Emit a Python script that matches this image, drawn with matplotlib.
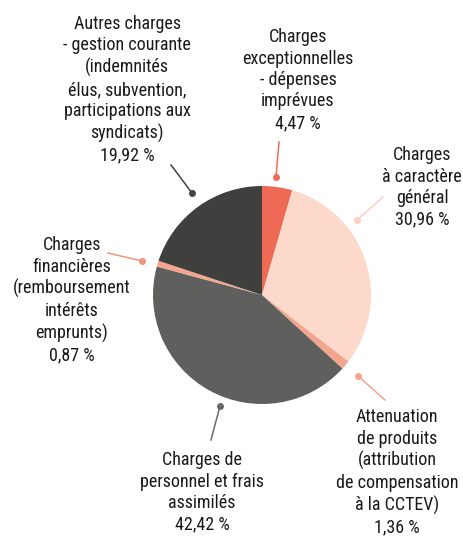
import matplotlib
matplotlib.use('Agg')
import matplotlib.pyplot as plt

# data
labels = [
    'Charges\nexceptionnelles\n- dépenses\nimprévues',
    'Charges\nà caractère\ngénéral',
    'Attenuation\nde produits\n(attribution\nde compensation\nà la CCTEV)',
    'Charges de\npersonnel et frais\nassimilés',
    'Charges\nfinancières\n(remboursement\nintérêts\nemprunts)',
    'Autres charges\n- gestion courante\n(indemnités\nélus, subvention,\nparticipations aux\nsyndicats)',
]
values = [4.47, 30.96, 1.36, 42.42, 0.87, 19.92]
colors = ['#EE6A55', '#FCD9CB', '#F4A58D', '#5F5F5D', '#F4A58D', '#3F3F3D']
line_colors = ['#EE6A55', '#FCD0C0', '#F4A58D', '#6A6A68', '#F0957A', '#444442']

W, H = 463, 538
# label text centre (x, y of first line) and connector (dot, end), image pixel coords
text_pos = [(298, 37), (422, 155), (397, 417), (202, 460), (72, 245), (127, 24)]
dots = [(276, 177), (357, 220), (358, 376), (220, 406), (142, 261), (192, 193)]
ends = [(279, 142), (383, 197), (385, 400), (211, 440), (108, 253), (171, 165)]

plt.rcParams['font.family'] = ['Roboto Condensed', 'DejaVu Sans']

fig = plt.figure(figsize=(W / 100, H / 100), dpi=100)
ax = fig.add_axes([0, 0, 1, 1])

ax.pie(values, colors=colors, startangle=90, counterclock=False,
       center=(262, H - 295), radius=109, frame=True,
       wedgeprops=dict(linewidth=0))
ax.set_xlim(0, W)
ax.set_ylim(0, H)
ax.set_aspect('equal')
ax.axis('off')

for lab, v, (tx, ty), (dx, dy), (ex, ey), lc in zip(labels, values, text_pos, dots, ends, line_colors):
    txt = lab + '\n' + f'{v:.2f}'.replace('.', ',') + ' %'
    ax.text(tx, H - ty + 9, txt, ha='center', va='top', fontsize=13,
            linespacing=1.25, color='#1a1a1a')
    ax.plot([dx, ex], [H - dy, H - ey], color=lc, linewidth=1.1)
    ax.plot(dx, H - dy, 'o', color=lc, markersize=4)

plt.savefig('out.png', dpi=100)
